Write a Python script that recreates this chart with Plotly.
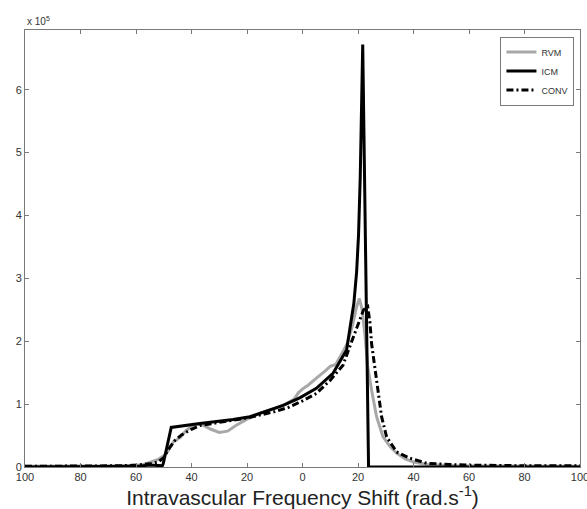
import plotly.graph_objects as go

# Frequency shift values (rad/s) and signal values (x 1e5)
rvm_x = [-100, -80, -65, -58, -55, -52, -50, -48.5, -46.5, -44, -42, -39, -36, -33, -30, -27, -24, -20, -15, -10, -6, -3, -1.5, 0, 2, 4, 6, 8, 10, 12, 14, 16, 18, 19.5, 20.5, 21.5, 22.5, 23.5, 24.9, 26.7, 29, 31.5, 33.9, 37, 40, 45, 55, 70, 100]
rvm_y = [0.01, 0.01, 0.02, 0.03, 0.07, 0.12, 0.18, 0.25, 0.4, 0.47, 0.58, 0.68, 0.67, 0.6, 0.55, 0.57, 0.66, 0.76, 0.86, 0.93, 1.0, 1.08, 1.18, 1.24, 1.3, 1.38, 1.45, 1.52, 1.6, 1.63, 1.78, 1.95, 2.25, 2.55, 2.68, 2.5, 2.1, 1.6, 1.22, 0.8, 0.48, 0.33, 0.22, 0.13, 0.08, 0.04, 0.02, 0.015, 0.01]

icm_x = [-100, -70, -60, -55, -50.5, -50.2, -47.3, -37, -25, -18.9, -12.4, -7, -1, 5, 11, 15.9, 17, 18.5, 19.5, 20.2, 20.8, 21.3, 21.7, 23.8, 30, 100]
icm_y = [0.0, 0.0, 0.01, 0.03, 0.02, 0.05, 0.63, 0.69, 0.755, 0.8, 0.9, 0.98, 1.1, 1.25, 1.49, 1.86, 2.18, 2.6, 3.1, 3.7, 4.6, 5.6, 6.72, 0.0, 0.0, 0.0]

conv_x = [-100, -70, -65, -60, -55, -52, -50, -48, -46, -43.6, -40, -37, -30, -20, -10, -5, 0, 5, 10, 14.6, 17, 18.8, 20.5, 22, 23.5, 24.3, 24.9, 26, 27.2, 28.5, 30.3, 33.9, 38.7, 44.7, 53, 60, 80, 100]
conv_y = [0.01, 0.01, 0.02, 0.03, 0.05, 0.08, 0.15, 0.3, 0.42, 0.51, 0.6, 0.66, 0.71, 0.78, 0.88, 0.95, 1.05, 1.17, 1.38, 1.62, 1.91, 2.12, 2.35, 2.5, 2.55, 2.3, 1.96, 1.59, 1.17, 0.8, 0.48, 0.24, 0.14, 0.06, 0.04, 0.03, 0.02, 0.02]

x_tickvals = [-100, -80, -60, -40, -20, 0, 20, 40, 60, 80, 100]
x_ticktext = ["100", "80", "60", "40", "20", "0", "20", "40", "60", "80", "100"]
y_tickvals = [0, 1, 2, 3, 4, 5, 6]

FONT = "Liberation Sans, Arial, Helvetica"

fig = go.Figure()
fig.add_trace(go.Scatter(x=rvm_x, y=rvm_y, mode="lines", name="RVM",
                         line=dict(color="#a8a8a8", width=3)))
fig.add_trace(go.Scatter(x=icm_x, y=icm_y, mode="lines", name="ICM",
                         line=dict(color="#000000", width=3)))
fig.add_trace(go.Scatter(x=conv_x, y=conv_y, mode="lines", name="CONV",
                         line=dict(color="#000000", width=3, dash="7px,3px,2px,3px")))

axis_common = dict(showgrid=False, zeroline=False, showline=True, linecolor="#7a7a7a",
                   linewidth=1, mirror="allticks", ticks="inside", ticklen=4,
                   tickcolor="#7a7a7a", automargin=False,
                   tickfont=dict(family=FONT, size=11, color="#333333"))

fig.update_layout(
    width=587, height=509,
    margin=dict(l=25, r=7, t=30, b=42),
    paper_bgcolor="white", plot_bgcolor="white",
    showlegend=True,
    legend=dict(x=0.99, y=0.985, xanchor="right", yanchor="top",
                bgcolor="white", bordercolor="#7a7a7a", borderwidth=1,
                font=dict(family=FONT, size=9, color="#333333"),
                tracegroupgap=0, itemwidth=30),
    xaxis=dict(range=[-100, 100], tickvals=x_tickvals, ticktext=x_ticktext,
               ticklabeloverflow="allow",
               title=dict(text="Intravascular Frequency Shift (rad.s<sup>-1</sup>)",
                          font=dict(family=FONT, size=21, color="#222222"),
                          standoff=2),
               **axis_common),
    yaxis=dict(range=[0, 6.95], tickvals=y_tickvals, **axis_common),
    annotations=[dict(text="x 10<sup>5</sup>", xref="paper", yref="paper", x=0, y=1,
                      xanchor="left", yanchor="bottom", showarrow=False, yshift=1,
                      font=dict(family=FONT, size=10, color="#333333"))],
)

fig.write_html("out.html")
